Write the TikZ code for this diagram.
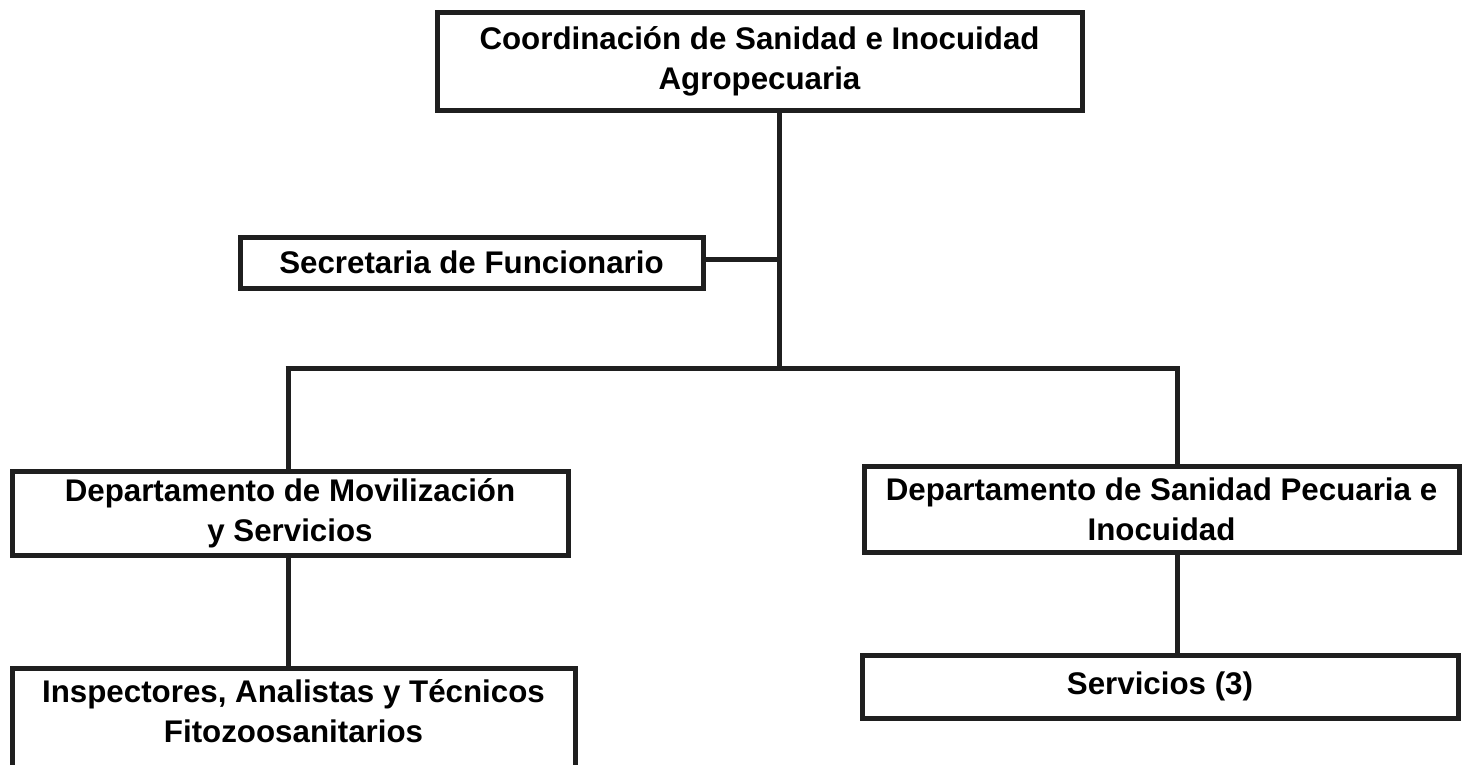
\documentclass[tikz,border=0pt]{standalone}
\usepackage{fontspec}
\setmainfont{Liberation Sans}
\begin{document}
\begin{tikzpicture}[x=1pt,y=-1pt,
  txt/.style={font=\fontsize{31.3}{40}\selectfont\bfseries, align=center},
  box/.style={txt, draw=black!88, line width=5pt, fill=white, inner sep=0pt},
  link/.style={draw=black!88, line width=5pt}]
\clip (0,0) rectangle (1472,764);
\useasboundingbox (0,0) rectangle (1472,764);
\fill[white] (0,0) rectangle (1472,764);
% nodes
\node[box, minimum width=645pt, minimum height=98pt] (coord) at (759.5,61) {Coordinación de Sanidad e Inocuidad\\Agropecuaria};
\node[box, minimum width=463pt, minimum height=51pt] (sec) at (471.5,262.5) {Secretaria de Funcionario};
\node[box, minimum width=556pt, minimum height=84pt] (movil) at (290,513) {Departamento de Movilización\\y Servicios};
\node[box, minimum width=595pt, minimum height=86pt] (pecu) at (1161.5,509) {Departamento de Sanidad Pecuaria e\\Inocuidad};
\node[box, minimum width=563pt, minimum height=110pt] (insp) at (293.5,723) {};
\node[txt, anchor=north] (insptext) at (293.5,676) {Inspectores, Analistas y Técnicos\\Fitozoosanitarios};
\node[box, minimum width=596pt, minimum height=63pt] (serv) at (1160,686.5) {Servicios (3)};
% connectors
\coordinate (bus) at (779,368);
\coordinate (busL) at (288,368);
\coordinate (busR) at (1177,368);
\coordinate (secj) at (779,259);
\draw[link] (coord.south -| bus) -- (bus);
\draw[link] (sec.east |- secj) -- (secj);
\draw[link] ([xshift=-2.5pt]busL) -- ([xshift=2.5pt]busR);
\draw[link] ([yshift=-2.5pt]busL) -- (movil.north -| busL);
\draw[link] ([yshift=-2.5pt]busR) -- (pecu.north -| busR);
\draw[link] (movil.south -| busL) -- (insp.north -| busL);
\draw[link] (pecu.south -| busR) -- (serv.north -| busR);
\end{tikzpicture}
\end{document}
